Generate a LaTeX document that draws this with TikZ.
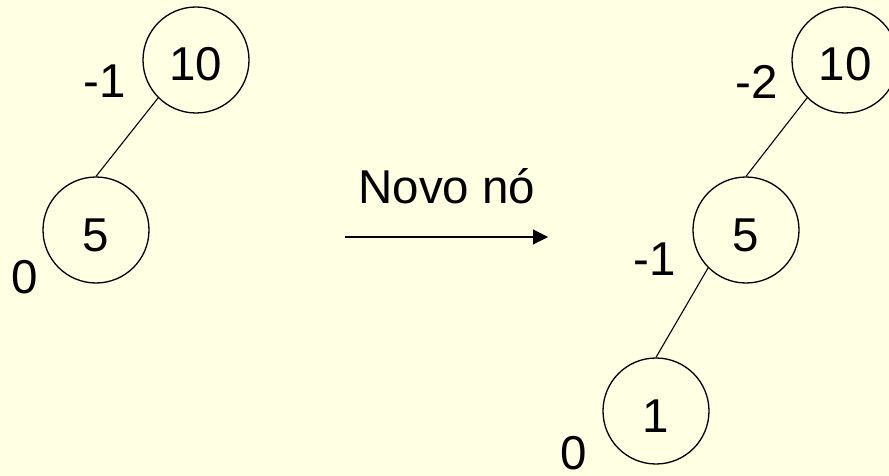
\documentclass[tikz,border=0pt]{standalone}
\usepackage{fontspec}
\setmainfont{Liberation Sans}
\usetikzlibrary{arrows.meta}
\definecolor{bgyellow}{HTML}{FFFFE3}
\begin{document}
\begin{tikzpicture}[x=1pt,y=-1pt,
  treenode/.style={draw, circle, line width=1.3pt, minimum size=106pt, inner sep=0pt,
    font=\fontsize{47.5}{54}\selectfont, text height=42pt, text depth=0pt},
  bal/.style={inner sep=0pt, font=\fontsize{47.5}{54}\selectfont},
  edge/.style={line width=1.1pt}]
\fill[bgyellow] (0,0) rectangle (889,476);
\useasboundingbox (0,0) rectangle (889,476);
% left tree
\node[treenode] (l10) at (196,60) {10};
\node[treenode] (l5) at (96,230) {5};
\node[bal] (lb10) at (105,81) {-1};
\node[bal] (lb5) at (25,277) {0};
\draw[edge] (l10.225) -- (l5.north);
% arrow
\node[inner sep=0pt, anchor=base, font=\fontsize{47.5}{54}\selectfont] (lbl) at (447,203) {Novo nó};
\coordinate (as) at (345,237);
\coordinate (ae) at (548,237);
\draw[line width=1.1pt, -{Triangle[length=15pt,width=15pt]}] (as) -- (ae);
% right tree
\node[treenode] (r10) at (845,60) {10};
\node[treenode] (r5) at (746,230) {5};
\node[treenode] (r1) at (656,411) {1};
\node[bal] (rb10) at (757,82) {-2};
\node[bal] (rb5) at (655,259) {-1};
\node[bal] (rb1) at (574,453) {0};
\draw[edge] (r10.225) -- (r5.north);
\draw[edge] (r5.225) -- (r1.north);
\end{tikzpicture}
\end{document}
